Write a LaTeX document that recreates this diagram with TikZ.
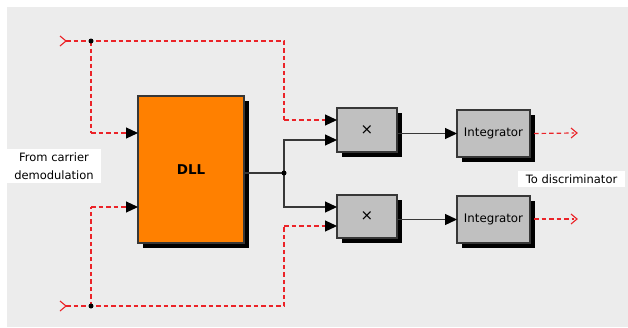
\documentclass[tikz,border=0pt]{standalone}
\usepackage{fontspec}
\setmainfont{DejaVu Sans}
\usetikzlibrary{arrows.meta,shadows,calc}
\definecolor{bgc}{RGB}{236,236,236}
\definecolor{sigc}{RGB}{235,35,40}
\definecolor{orng}{RGB}{255,128,0}
\definecolor{blkc}{RGB}{192,192,192}
\definecolor{edgec}{RGB}{55,55,55}
\begin{document}
\begin{tikzpicture}[x=1pt,y=-1pt,
  box/.style={draw=edgec, line width=1.3pt, fill=blkc, inner sep=0pt, outer sep=0pt,
    general shadow={fill=black, shadow xshift=5pt, shadow yshift=-5pt}},
  wire/.style={draw=edgec, line width=1.2pt},
  sigwire/.style={draw=sigc, line width=1.2pt, dash pattern=on 4.5pt off 3pt},
  tipb/.style={-{Triangle[length=12pt,width=11pt,color=black]}},
  chev/.style={draw=sigc, line width=1.1pt},
  jdot/.style={circle, fill=black, inner sep=0pt, minimum size=5pt},
  lbl/.style={fill=white, inner sep=0pt, align=center, font=\fontsize{11.5}{18}\selectfont},
  btxt/.style={font=\fontsize{11.8}{13}\selectfont}]
\useasboundingbox (0,0) rectangle (628,327);
\fill[white] (0,0) rectangle (628,327);
\fill[bgc] (7,7) rectangle (628,327);

% blocks
\node[box, fill=orng, minimum width=106pt, minimum height=147pt] (dll) at (191,169.5) {\fontsize{13.5}{15}\selectfont\bfseries DLL};
\node[box, minimum width=60pt, minimum height=44pt] (mulT) at (367,130) {\fontsize{15}{16}\selectfont ×};
\node[box, minimum width=60pt, minimum height=43pt] (mulB) at (367,216.5) {\fontsize{15}{16}\selectfont ×};
\node[box, btxt, minimum width=73pt, minimum height=47pt] (intT) at (493.5,133.5) {Integrator};
\node[box, btxt, minimum width=73pt, minimum height=47pt] (intB) at (493.5,219.5) {Integrator};

% labels
\node[lbl, minimum width=94pt, minimum height=34pt] (from) at (54,166) {From carrier\\demodulation};
\node[lbl, minimum width=107pt, minimum height=16pt] (to) at (571.5,179) {To discriminator};

% ports and junctions
\coordinate (inT) at (66,41);
\coordinate (inB) at (66,306);
\coordinate (jT) at (91,41);
\coordinate (jB) at (91,306);
\coordinate (cT) at (284,41);
\coordinate (cB) at (284,306);
\coordinate (jM) at (284,173);
\coordinate (outT) at (574,133);
\coordinate (outB) at (574,219);

% input chevrons
\draw[chev] (60,36) -- (inT) -- (60,46);
\draw[chev] (60,301) -- (inB) -- (60,311);
% output chevrons
\draw[chev] (571,128) -- (577,133) -- (571,138);
\draw[chev] (571,214) -- (577,219) -- (571,224);

% signal wires (dashed)
\draw[sigwire] (inT) -- (jT) -- (cT) -- (284,120);
\draw[sigwire, tipb] (284,120) -- ([yshift=10pt]mulT.west);
\draw[sigwire] (jT) -- (91,133);
\draw[sigwire, tipb] (91,133) -- ([yshift=36.5pt]dll.west);
\draw[sigwire] (inB) -- (jB) -- (cB) -- (284,226);
\draw[sigwire, tipb] (284,226) -- ([yshift=-9.5pt]mulB.west);
\draw[sigwire] (jB) -- (91,207);
\draw[sigwire, tipb] (91,207) -- ([yshift=-37.5pt]dll.west);
\draw[sigwire] ([xshift=4pt]intT.east) -- (outT);
\draw[sigwire] ([xshift=4pt]intB.east |- outB) -- (outB);

% solid wires
\draw[wire] ([yshift=-3.5pt]dll.east) -- (jM);
\draw[wire, tipb] (jM) |- ([yshift=-10pt]mulT.west);
\draw[wire, tipb] (jM) |- ([yshift=9.5pt]mulB.west);
\draw[wire, tipb] (mulT.east |- intT.west) -- (intT.west);
\draw[wire, tipb] (mulB.east |- intB.west) -- (intB.west);

% junction dots on top
\node[jdot] (dT) at (jT) {};
\node[jdot] (dB) at (jB) {};
\node[jdot] (dM) at (jM) {};
\end{tikzpicture}
\end{document}
